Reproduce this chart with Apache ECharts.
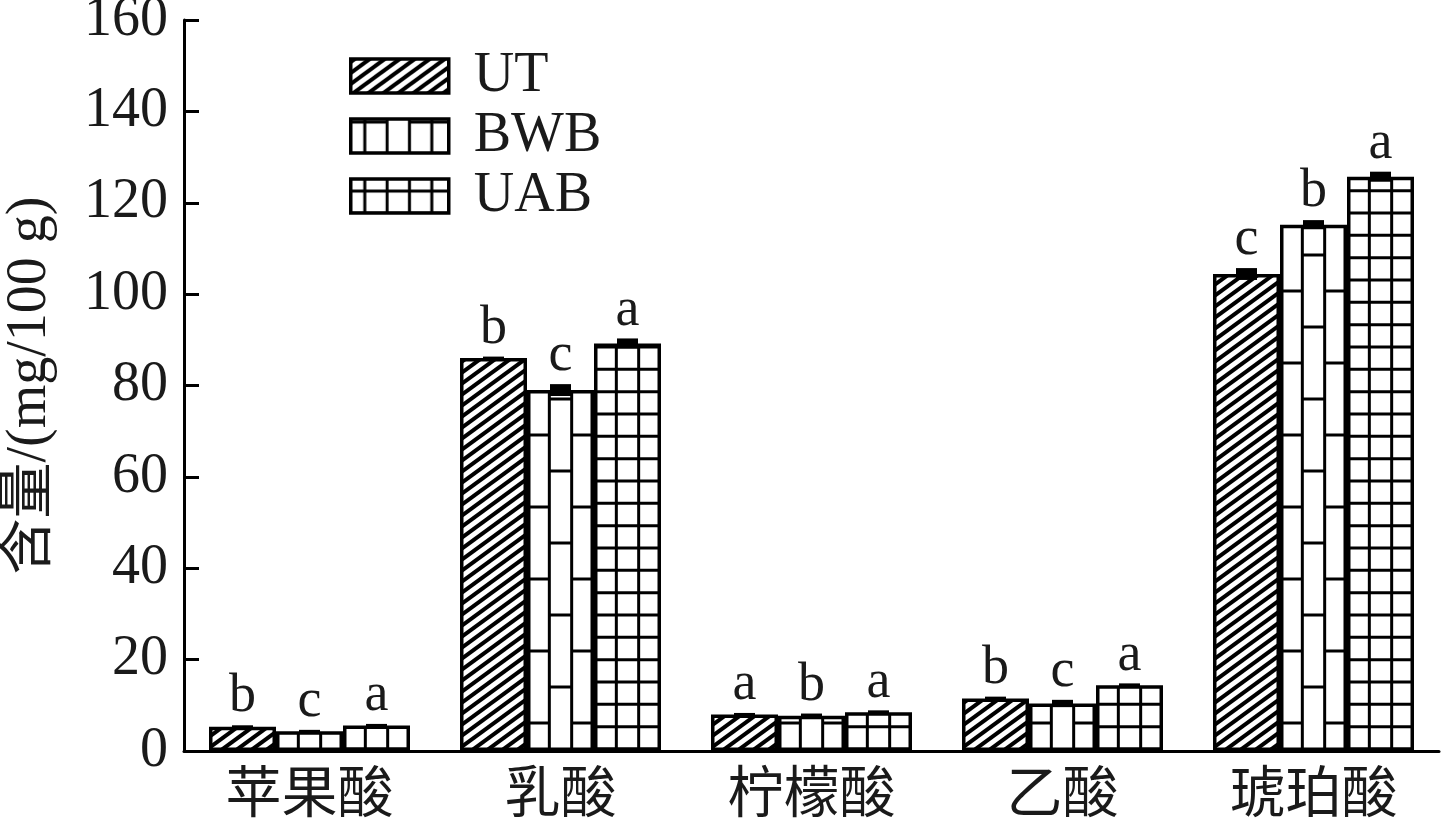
<!DOCTYPE html>
<html>
<head>
<meta charset="utf-8">
<script src="https://cdn.jsdelivr.net/npm/echarts@6/dist/echarts.min.js"></script>
<style>
html,body{margin:0;padding:0;background:#fff;}
#chart{width:1441px;height:823px;}
</style>
</head>
<body>
<div id="chart"></div>
<script>
// ---- data ----
const categories = ['苹果酸', '乳酸', '柠檬酸', '乙酸', '琥珀酸'];
const seriesNames = ['UT', 'BWB', 'UAB'];
const valuesUT  = [5.3, 86.0, 8.0, 11.5, 104.4];
const valuesBWB = [4.3, 79.0, 7.7, 10.4, 115.2];
const valuesUAB = [5.6, 89.2, 8.5, 14.4, 125.7];
const errorsUT  = [0.2, 0.3, 0.2, 0.4, 1.3];
const errorsBWB = [0.2, 1.3, 0.5, 0.8, 1.0];
const errorsUAB = [0.3, 1.1, 0.4, 0.4, 1.1];
const lettersUT  = ['b', 'b', 'a', 'b', 'c'];
const lettersBWB = ['c', 'c', 'b', 'c', 'b'];
const lettersUAB = ['a', 'a', 'a', 'a', 'a'];
const yTicks = [0, 20, 40, 60, 80, 100, 120, 140, 160];

// ---- layout / style constants ----
const GRID_LEFT = 184, GRID_RIGHT = 2, GRID_TOP = 20, GRID_BOTTOM = 72;
const BAR_W = 67;
const LATIN = 'Liberation Serif';
const CJK = 'Noto Sans CJK SC';
const TEXT = '#1a1a1a';

function makeCanvas(w, h, draw) {
  const c = document.createElement('canvas');
  c.width = w; c.height = h;
  const ctx = c.getContext('2d');
  ctx.fillStyle = '#fff';
  ctx.fillRect(0, 0, w, h);
  ctx.strokeStyle = '#000';
  draw(ctx);
  return c;
}
// UT: diagonal hatch
const HW = 15, HH = 11;
const hatch = makeCanvas(HW, HH, ctx => {
  ctx.lineWidth = 4;
  ctx.lineCap = 'butt';
  [-HW, 0, HW].forEach(dx => {
    ctx.beginPath();
    ctx.moveTo(dx - 4, HH + HH * 4 / HW);
    ctx.lineTo(dx + HW + 4, -HH * 4 / HW);
    ctx.stroke();
  });
});
// BWB: vertical bricks
const brick = makeCanvas(67, 72, ctx => {
  ctx.lineWidth = 3;
  const t = 67 / 3;
  [0, t, 2 * t, 67].forEach(x => { ctx.beginPath(); ctx.moveTo(x, 0); ctx.lineTo(x, 72); ctx.stroke(); });
  [0, 72].forEach(y => {
    ctx.beginPath(); ctx.moveTo(0, y); ctx.lineTo(t, y); ctx.stroke();
    ctx.beginPath(); ctx.moveTo(2 * t, y); ctx.lineTo(67, y); ctx.stroke();
  });
  ctx.beginPath(); ctx.moveTo(t, 36); ctx.lineTo(2 * t, 36); ctx.stroke();
});
// UAB: square grid
const grid = makeCanvas(67, 67, ctx => {
  ctx.lineWidth = 3;
  const t = 67 / 3;
  [0, t, 2 * t, 67].forEach(p => {
    ctx.beginPath(); ctx.moveTo(p, 0); ctx.lineTo(p, 67); ctx.stroke();
    ctx.beginPath(); ctx.moveTo(0, p); ctx.lineTo(67, p); ctx.stroke();
  });
});
const patterns = [hatch, brick, grid];
const patternY = [0, 3, 12];

const chartW = 1441;
const catW = (chartW - GRID_LEFT - GRID_RIGHT) / categories.length;
function barLeft(k, s) {
  return GRID_LEFT + k * catW + (catW - 3 * BAR_W) / 2 + s * BAR_W;
}
function pat(s, x) {
  return { image: patterns[s], repeat: 'repeat', x: x, y: patternY[s] };
}

const allValues = [valuesUT, valuesBWB, valuesUAB];
const allErrors = [errorsUT, errorsBWB, errorsUAB];
const allLetters = [lettersUT, lettersBWB, lettersUAB];

const barSeries = seriesNames.map((name, s) => ({
  name: name,
  type: 'bar',
  barWidth: BAR_W,
  barGap: '0%',
  itemStyle: { color: pat(s, 349), borderColor: '#000', borderWidth: 3.5 },
  data: allValues[s].map((v, k) => ({
    value: v,
    itemStyle: { color: pat(s, barLeft(k, s)) }
  })),
  z: 2
}));

const errSeries = seriesNames.map((name, s) => ({
  name: name + '-err',
  type: 'custom',
  z: 5,
  data: allValues[s].map((v, k) => [k, v, allErrors[s][k]]),
  renderItem: function (params, api) {
    const k = api.value(0), v = api.value(1), e = api.value(2);
    const letter = allLetters[s][k];
    const bw = api.size([1, 0])[0] * BAR_W / catW;
    const top = api.coord([k, v + e]);
    const bot = api.coord([k, v - e]);
    const cx = top[0] + (s - 1) * bw;
    let h = bot[1] - top[1];
    let y = top[1];
    if (h < 3) { y = (top[1] + bot[1]) / 2 - 1.5; h = 3; }
    return {
      type: 'group',
      children: [
        { type: 'rect', shape: { x: cx - 10.5, y: y, width: 21, height: h }, style: { fill: '#000' } },
        { type: 'text', x: cx, y: y - 1,
          style: { text: letter, fill: TEXT, font: '54px "' + LATIN + '"', align: 'center', verticalAlign: 'bottom' } }
      ]
    };
  }
}));

const option = {
  animation: false,
  backgroundColor: '#fff',
  grid: { left: GRID_LEFT, right: GRID_RIGHT, top: GRID_TOP, bottom: GRID_BOTTOM, containLabel: false, outerBoundsMode: 'none' },
  legend: {
    data: seriesNames,
    orient: 'vertical',
    left: 349,
    top: 48,
    padding: 0,
    icon: 'rect',
    itemWidth: 98,
    itemHeight: 34,
    itemGap: 4,
    selectedMode: false,
    itemStyle: { borderColor: '#000', borderWidth: 3.5 },
    textStyle: { fontFamily: LATIN, fontSize: 56, color: TEXT, padding: [0, 0, 0, 20] }
  },
  xAxis: {
    type: 'category',
    data: categories,
    axisLine: { lineStyle: { color: '#000', width: 3 } },
    axisTick: { show: false },
    axisLabel: { fontFamily: CJK, fontSize: 56, color: TEXT, margin: 12 }
  },
  yAxis: {
    type: 'value',
    min: yTicks[0],
    max: yTicks[yTicks.length - 1],
    interval: yTicks[1] - yTicks[0],
    name: '含量/(mg/100 g)',
    nameLocation: 'middle',
    nameRotate: 90,
    nameGap: 126,
    nameTextStyle: { fontFamily: LATIN + ', ' + CJK, fontSize: 56, color: TEXT },
    axisLine: { show: true, lineStyle: { color: '#000', width: 3 } },
    axisTick: { show: true, inside: true, length: 15, lineStyle: { color: '#000', width: 3 } },
    splitLine: { show: false },
    axisLabel: { fontFamily: LATIN, fontSize: 56, color: TEXT, margin: 16 }
  },
  series: barSeries.concat(errSeries)
};

const chart = echarts.init(document.getElementById('chart'), null, { renderer: 'canvas' });
chart.setOption(option);
</script>
</body>
</html>
